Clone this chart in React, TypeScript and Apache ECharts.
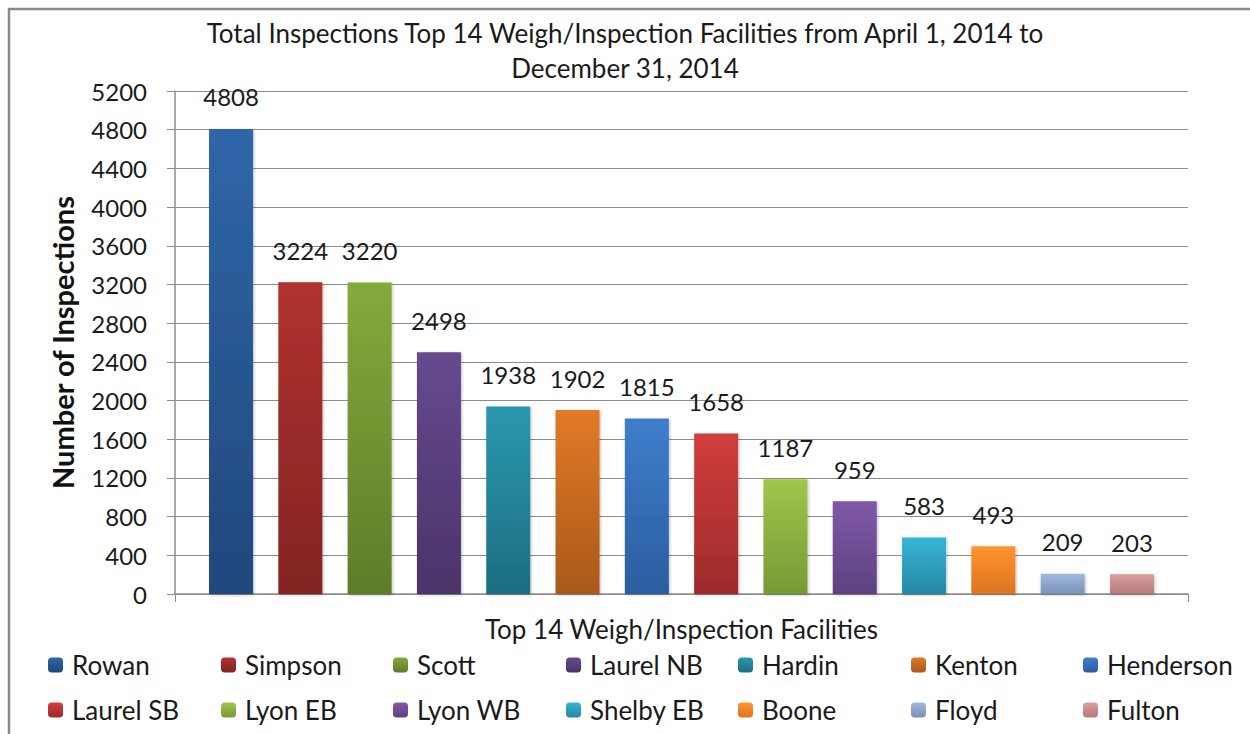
import React, { useEffect, useRef } from "react";
import * as echarts from "echarts";

const facilities = [
  "Rowan", "Simpson", "Scott", "Laurel NB", "Hardin", "Kenton", "Henderson",
  "Laurel SB", "Lyon EB", "Lyon WB", "Shelby EB", "Boone", "Floyd", "Fulton",
];
const inspections = [4808, 3224, 3220, 2498, 1938, 1902, 1815, 1658, 1187, 959, 583, 493, 209, 203];
const topColors = [
  "#2f66a9", "#b0322f", "#84aa3b", "#664990", "#2b98af", "#e27a26", "#3e7ecc",
  "#d13d3d", "#9fc74b", "#8059a9", "#36b5d5", "#ff942f", "#a2b9de", "#dd9e9e",
];
const bottomColors = [
  "#21477b", "#822423", "#5e7c2a", "#4a3469", "#1d6d80", "#a9591b", "#2b5d9f",
  "#9c2b2b", "#779934", "#5e417f", "#2788a3", "#db7420", "#7a91b8", "#b47a7a",
];
const yTicks = { min: 0, max: 5200, interval: 400 };
const titleText = "Total Inspections Top 14 Weigh/Inspection Facilities from April 1, 2014 to\nDecember 31, 2014";
const yName = "Number of Inspections";
const xName = "Top 14 Weigh/Inspection Facilities";
const legendColumnsX = [48, 221, 393, 566, 738, 911, 1083];

const FONT = "Lato, 'Open Sans', sans-serif";

export default function App() {
  const ref = useRef<HTMLDivElement>(null);
  useEffect(() => {
    if (!ref.current) return;
    const chart = echarts.init(ref.current, undefined, { renderer: "svg" });
    const grad = (i: number) =>
      new echarts.graphic.LinearGradient(0, 0, 0, 1, [
        { offset: 0, color: topColors[i] },
        { offset: 1, color: bottomColors[i] },
      ]);
    const series = facilities.map((name, i) => ({
      name,
      type: "bar",
      data: [inspections[i]],
      barWidth: 44,
      barGap: "57.5%",
      itemStyle: { color: grad(i), shadowBlur: 3, shadowColor: "rgba(0,0,0,0.25)", shadowOffsetX: 1, shadowOffsetY: 1 },
      label: {
        show: true,
        position: "top",
        distance: 20,
        fontFamily: FONT,
        fontSize: 24,
        color: "#1a1a1a",
      },
    }));
    const legends = legendColumnsX.map((x, c) => ({
      orient: "vertical",
      left: x - 5,
      top: 645,
      itemWidth: 15,
      itemHeight: 15,
      itemGap: 15,
      data: [facilities[c], facilities[c + 7]],
      textStyle: { fontFamily: FONT, fontSize: 26, color: "#1a1a1a", lineHeight: 30, padding: [0, 0, 0, 4] },
      selectedMode: false,
    }));
    chart.setOption({
      animation: false,
      backgroundColor: "#fff",
      title: {
        text: titleText,
        left: "center",
        top: 10,
        textStyle: { fontFamily: FONT, fontSize: 26, fontWeight: "normal", color: "#1a1a1a", lineHeight: 35 },
      },
      graphic: [
        {
          type: "rect",
          shape: { x: 9, y: 9, width: 1300, height: 800 },
          style: { fill: "none", stroke: "#8a8a8a", lineWidth: 2.5 },
          silent: true,
        },
      ],
      legend: legends,
      grid: { left: 175, right: 62, top: 91, bottom: 140, containLabel: false },
      xAxis: {
        type: "category",
        data: [""],
        name: xName,
        nameLocation: "middle",
        nameGap: 22,
        nameTextStyle: { fontFamily: FONT, fontSize: 26, color: "#1a1a1a" },
        axisLine: { lineStyle: { color: "#8c8c8c", width: 1.5 } },
        axisTick: { show: true, length: 8, lineStyle: { color: "#8c8c8c" } },
        axisLabel: { show: false },
      },
      yAxis: {
        type: "value",
        min: yTicks.min,
        max: yTicks.max,
        interval: yTicks.interval,
        name: yName,
        nameLocation: "middle",
        nameGap: 98,
        nameTextStyle: { fontFamily: FONT, fontSize: 29, fontWeight: "bold", color: "#111" },
        axisLine: { show: true, lineStyle: { color: "#8c8c8c", width: 1.5 } },
        axisTick: { show: true, length: 8, lineStyle: { color: "#8c8c8c" } },
        axisLabel: { fontFamily: FONT, fontSize: 24, color: "#1a1a1a", margin: 28, formatter: (v: number) => String(v) },
        splitLine: { lineStyle: { color: "#8c8c8c", width: 1.2 } },
      },
      series,
    });
    return () => chart.dispose();
  }, []);
  return (
    <div
      ref={ref}
      style={{ position: "fixed", left: 0, top: 0, width: 1250, height: 734 }}
    />
  );
}
